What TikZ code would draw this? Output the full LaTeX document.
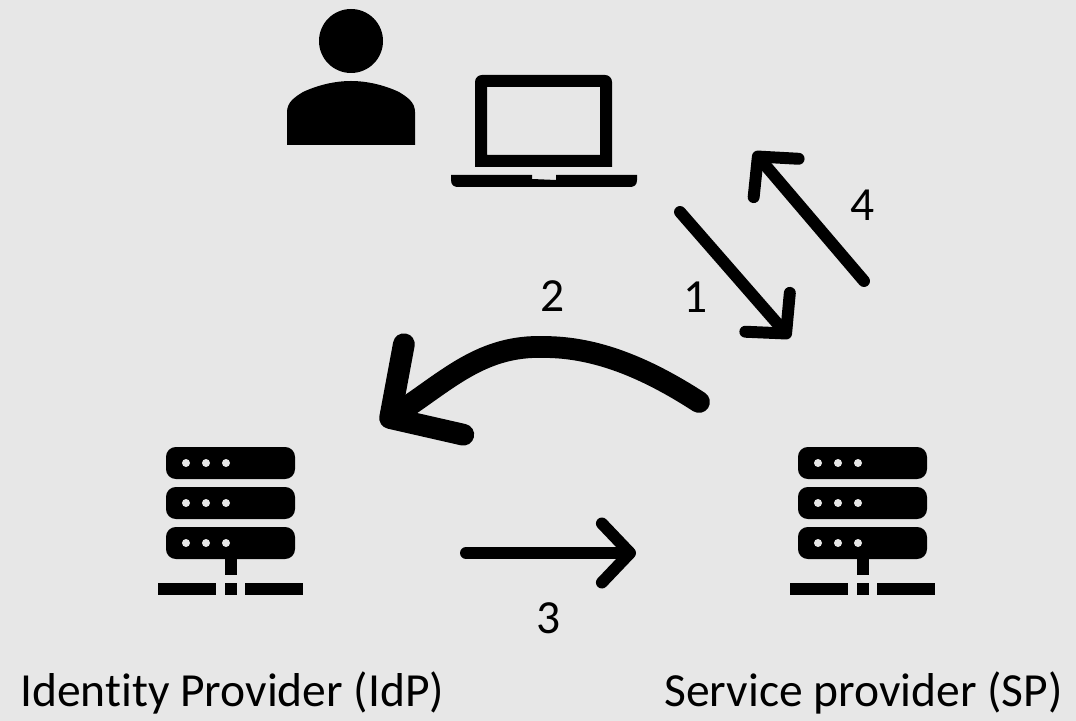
\documentclass[tikz,border=0pt]{standalone}
\usepackage{fontspec}
\setmainfont{Carlito}[Ligatures=CommonOff]
\usetikzlibrary{arrows.meta}
\definecolor{bggray}{HTML}{E7E7E7}
\tikzset{
  label/.style={font=\fontsize{33.8pt}{40pt}\selectfont, inner sep=0pt, text=black},
  step1/.style={line width=8.5pt, line cap=round, -{Straight Barb[round,length=20pt,width=42pt]}},
  step2/.style={line width=15.5pt, line cap=round, -{Straight Barb[round,length=37pt,width=77pt]}},
  pics/serverrack/.style={code={
    \foreach \y in {447,487,527} {
      \fill[rounded corners=7] (166,\y) rectangle (295,\y+32);
      \foreach \x in {186,206,226}
        \fill[bggray] (\x,\y+16) circle (4);
    }
    \fill (224.5,559) rectangle (236.5,575);
    \fill (158,583) rectangle (216,595);
    \fill (224.5,583) rectangle (236.5,595);
    \fill (244.5,583) rectangle (303,595);
  }}
}
\begin{document}
\begin{tikzpicture}[x=0.25mm,y=-0.25mm]
  \fill[bggray] (0,0) rectangle (1076,721);
  \useasboundingbox (0,0) rectangle (1076,721);
  % person
  \fill (351,41) circle (32);
  \fill (287,145) -- (287,112) .. controls (287,102) and (295,97) .. (303,92)
    .. controls (318,85) and (335,81) .. (351,81)
    .. controls (367,81) and (384,85) .. (399,92)
    .. controls (407,97) and (415,102) .. (415,112) -- (415,145) -- cycle;
  % laptop
  \fill[even odd rule] (475,167) -- (475,82) arc (180:90:7 and -7) -- (605,75)
    arc (90:0:7 and -7) -- (612,167) -- cycle
    (487,87) rectangle (600,155);
  \fill (451,175) -- (532,175) -- (532,179) -- (556,180) -- (556,175) -- (637,175)
    -- (637,180) .. controls (637,185) and (634,187) .. (630,187) -- (458,187)
    .. controls (454,187) and (451,185) .. (451,180) -- cycle;
  % servers
  \pic at (0,0) {serverrack};
  \pic at (632,0) {serverrack};
  % arrows
  \coordinate (s1) at (680,212);
  \coordinate (e1) at (790,338);
  \coordinate (s2) at (699,402);
  \coordinate (m2) at (544,347);
  \coordinate (e2) at (381,424);
  \coordinate (s3) at (466,553);
  \coordinate (e3) at (636,553);
  \coordinate (s4) at (864,281);
  \coordinate (e4) at (754,152);
  \draw[step1] (s1) -- (e1);
  \draw[step2] (s2) .. controls (645,367) and (595,347) .. (m2)
    .. controls (482,345) and (448,380) .. (e2);
  \draw[step1] (s3) -- (e3);
  \draw[step1] (s4) -- (e4);
  % labels
  \node[label] (n1) at (696,297) {1};
  \node[label] (n2) at (553,296) {2};
  \node[label] (n3) at (549,618) {3};
  \node[label] (n4) at (863,205) {4};
  \node[label, anchor=base west] (idp) at (20,706) {Identity Provider (IdP)};
  \node[label, anchor=base west] (sp) at (664,706) {Service provider (SP)};
\end{tikzpicture}
\end{document}
